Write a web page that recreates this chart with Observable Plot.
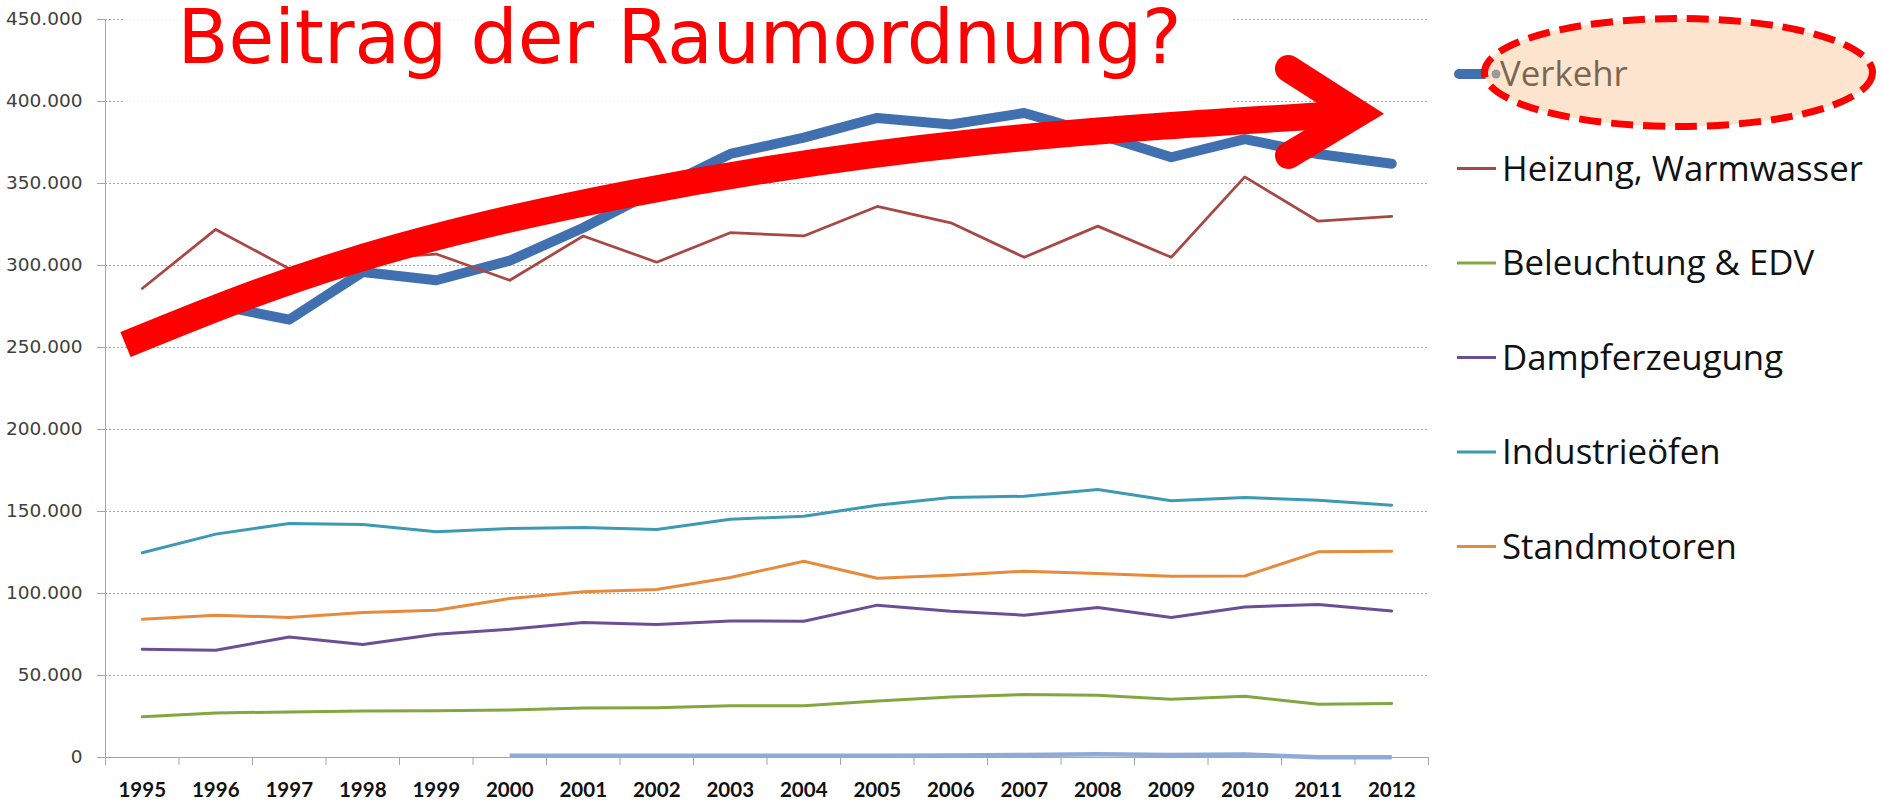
<!DOCTYPE html>
<html>
<head>
<meta charset="utf-8">
<script src="https://cdn.jsdelivr.net/npm/d3@7"></script>
<script src="https://cdn.jsdelivr.net/npm/@observablehq/plot@0.6"></script>
<style>
  html, body { margin: 0; padding: 0; background: #fff; }
  #chart { width: 1884px; height: 801px; overflow: hidden; }
</style>
</head>
<body>
<div id="chart"></div>
<script>
// ---------------- data ----------------
const years = [1995, 1996, 1997, 1998, 1999, 2000, 2001, 2002, 2003, 2004, 2005, 2006, 2007, 2008, 2009, 2010, 2011, 2012];
const seriesNames = ["Verkehr", "Heizung, Warmwasser", "Beleuchtung & EDV", "Dampferzeugung", "Industrieöfen", "Standmotoren"];
const verkehr     = [256000, 276000, 267000, 296000, 291000, 303000, 323000, 346000, 368000, 378000, 390000, 386000, 393000, 380000, 366000, 377000, 368000, 362000];
const heizung     = [286000, 322000, 298000, 304000, 307000, 291000, 318000, 302000, 320000, 318000, 336000, 326000, 305000, 324000, 305000, 354000, 327000, 330000];
const beleuchtung = [24800, 27200, 27800, 28400, 28500, 29000, 30200, 30400, 31500, 31500, 34500, 36900, 38400, 38000, 35500, 37400, 32500, 32900];
const dampf       = [66000, 65400, 73500, 68900, 75200, 78200, 82300, 81100, 83300, 83100, 92900, 89200, 86800, 91500, 85400, 91800, 93300, 89400];
const industrie   = [124800, 136200, 142700, 142100, 137600, 139600, 140200, 139000, 145300, 147100, 153800, 158500, 159300, 163400, 156500, 158500, 156900, 153800];
const stand       = [84300, 86800, 85400, 88400, 89800, 97000, 101000, 102400, 109800, 119700, 109300, 111100, 113600, 112200, 110500, 110700, 125400, 125800];
const sonstige    = [null, null, null, null, null, 1000, 1000, 1000, 1000, 1000, 1000, 1200, 1500, 2000, 1600, 1800, 200, 200];
const yTicks = [0, 50000, 100000, 150000, 200000, 250000, 300000, 350000, 400000, 450000];

// annotation (in data space)
const titleText = "Beitrag der Raumordnung?";
const titleAnchor = [{year: 1995.48, value: 423200, text: titleText}];
const titleBox = [{x1: 1994.77, x2: 2009.83, y1: 397600, y2: 470000}];
const arrowShaftYears  = [1994.772, 1997.752, 2001.602, 2006.323, 2011.547];
const arrowShaftValues = [251800, 301500, 343500, 375000, 392700];
const arrowHeadYears   = [2010.595, 2011.547, 2010.595];
const arrowHeadValues  = [420100, 392700, 367100];

// ---------------- styles ----------------
const colors = ["#4170b0", "#a84846", "#84a640", "#6a4f96", "#3c9ab3", "#e88a3c"];
const lineWidths = [10, 2.75, 3, 3, 3, 3];
const allSeries = [verkehr, heizung, beleuchtung, dampf, industrie, stand];

const rowsOf = vals => years.map((y, i) => ({year: y, value: vals[i]})).filter(d => d.value != null);
const boundaries = years.map(y => y - 0.5).concat([years[years.length - 1] + 0.5]);
const fmt = d => d3.format(",")(d).replace(/,/g, ".");

const marks = [
  Plot.gridY({ticks: yTicks.filter(d => d > 0), stroke: "#a6a6a6", strokeOpacity: 1, strokeDasharray: "2,2"}),
  Plot.rect(titleBox, {x1: "x1", x2: "x2", y1: "y1", y2: "y2", fill: "#ffffff", fillOpacity: 0.85}),
  Plot.ruleX([boundaries[0]], {stroke: "#a6a6a6"}),
  Plot.ruleY([0], {stroke: "#a6a6a6"}),
  Plot.axisY({ticks: yTicks, tickSize: 8, tickFormat: () => "", color: "#a6a6a6", label: null}),
  Plot.axisY({ticks: yTicks, tickSize: 0, tickPadding: 23, tickFormat: fmt, fontSize: 18.5, fontFamily: "DejaVu Sans", color: "#404040", label: null}),
  Plot.axisX({ticks: boundaries, tickSize: 8, tickFormat: () => "", color: "#a6a6a6", label: null}),
  Plot.axisX({ticks: years, tickSize: 0, tickPadding: 25, tickFormat: d => String(d), fontSize: 20.5, fontFamily: "Lato", fontWeight: "bold", color: "#111", label: null})
];
allSeries.forEach((vals, i) => {
  marks.push(Plot.line(rowsOf(vals), {x: "year", y: "value", stroke: colors[i], strokeWidth: lineWidths[i], strokeLinejoin: "round", strokeLinecap: "round"}));
});
marks.push(Plot.line(rowsOf(sonstige), {x: "year", y: "value", stroke: "#8faad6", strokeWidth: 4.5, strokeLinecap: "butt"}));
marks.push(Plot.text(titleAnchor, {x: "year", y: "value", text: "text", textAnchor: "start", lineAnchor: "bottom", fontSize: 75, fontFamily: "DejaVu Sans Condensed, DejaVu Sans", fill: "#ff0000"}));
marks.push(Plot.line(arrowShaftYears.map((y, i) => ({year: y, value: arrowShaftValues[i]})), {x: "year", y: "value", stroke: "#ff0000", strokeWidth: 27, curve: "natural", strokeLinecap: "butt"}));
marks.push(Plot.line(arrowHeadYears.map((y, i) => ({year: y, value: arrowHeadValues[i]})), {x: "year", y: "value", stroke: "#ff0000", strokeWidth: 27, strokeLinejoin: "miter", strokeMiterlimit: 10, strokeLinecap: "round"}));

const svg = Plot.plot({
  width: 1884,
  height: 801,
  marginLeft: 105,
  marginRight: 456,
  marginTop: 19,
  marginBottom: 44,
  x: {type: "linear", domain: [boundaries[0], boundaries[boundaries.length - 1]], label: null},
  y: {domain: [0, 450000], label: null},
  style: {background: "#ffffff", overflow: "visible"},
  marks
});
document.getElementById("chart").appendChild(svg);

// force bold on the year labels
d3.select(svg).selectAll('g[aria-label="x-axis tick label"] text').style("font-weight", "bold");

// condense the title to the reference width
const titleNode = d3.select(svg).select('g[aria-label="text"] text').node();
if (titleNode) {
  titleNode.setAttribute("textLength", 1004);
  titleNode.setAttribute("lengthAdjust", "spacingAndGlyphs");
}

// ---------------- legend ----------------
const legendRowsY = [74, 168.5, 263, 357.5, 452, 546.5];
const lg = d3.select(svg).append("g").attr("class", "legend").attr("text-anchor", "start");
// Verkehr entry with highlighted ellipse
lg.append("line").attr("x1", 1459).attr("x2", 1488).attr("y1", legendRowsY[0]).attr("y2", legendRowsY[0])
  .attr("stroke", colors[0]).attr("stroke-width", 10).attr("stroke-linecap", "round");
lg.append("ellipse").attr("cx", 1678.5).attr("cy", 72.5).attr("rx", 194).attr("ry", 54)
  .attr("fill", "#fde4cf").attr("stroke", "#ff0000").attr("stroke-width", 7).attr("stroke-dasharray", "22 10");
lg.append("circle").attr("cx", 1496).attr("cy", legendRowsY[0]).attr("r", 4.5).attr("fill", "#9a9a9a");
const labels = [];
seriesNames.forEach((name, i) => {
  if (i > 0) {
    lg.append("line").attr("x1", 1457).attr("x2", 1496).attr("y1", legendRowsY[i]).attr("y2", legendRowsY[i])
      .attr("stroke", colors[i]).attr("stroke-width", 3);
  }
  const t = lg.append("text").attr("x", i === 0 ? 1500 : 1502).attr("y", legendRowsY[i] + 12)
    .attr("text-anchor", "start")
    .attr("font-family", "Open Sans").attr("font-size", 32)
    .attr("fill", i === 0 ? "#7b6650" : "#111").text(name);
  labels.push(t);
});
const ref = labels[1].node().getComputedTextLength();
if (ref > 0) {
  const fs = 32 * 361 / ref;
  labels.forEach(t => t.attr("font-size", fs));
}
</script>
</body>
</html>
